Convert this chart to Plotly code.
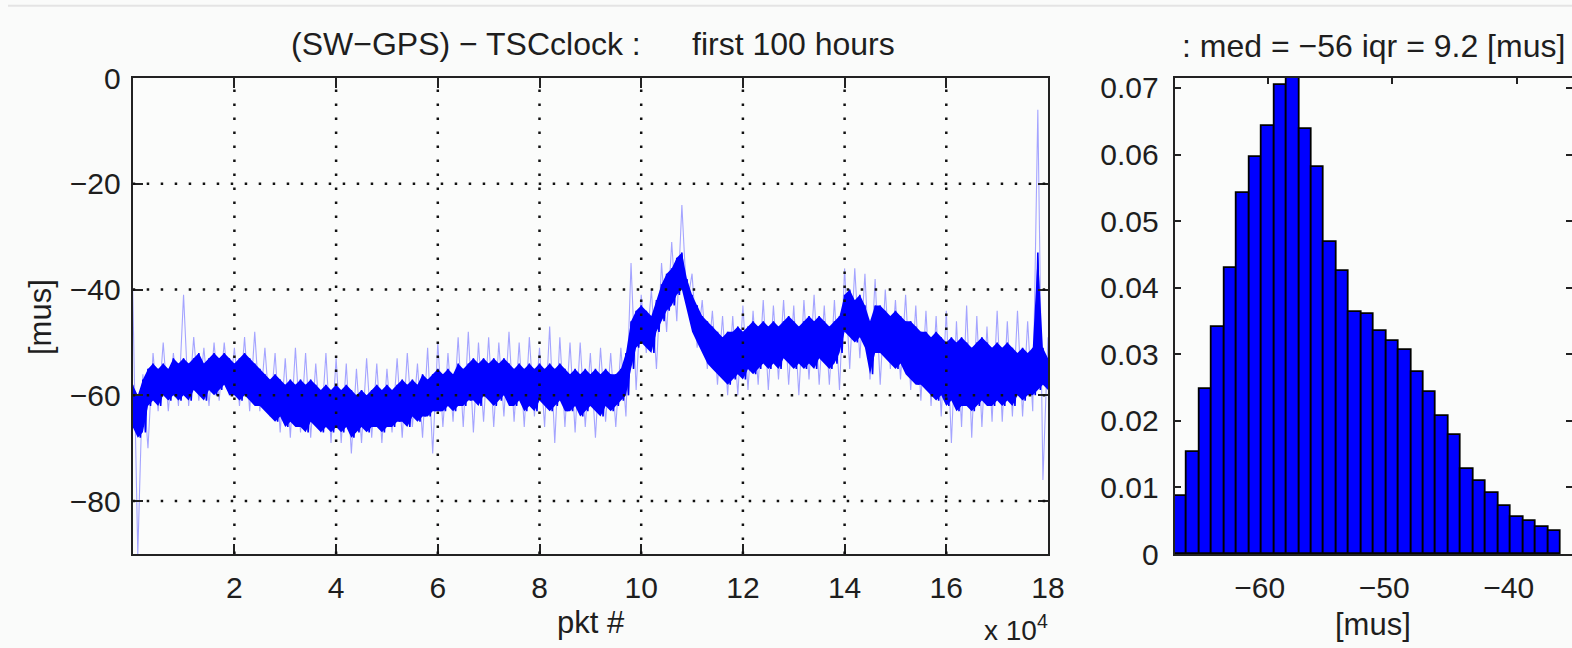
import plotly.graph_objects as go

# ---------------- data ----------------
# left panel: (SW-GPS) - TSCclock offset [mus], dense core band read every 1000 packets
core_pkt_step = 1000
core_hi = [-58, -60, -57, -55, -54, -55, -54, -55, -53, -54,
           -53, -54, -53, -52, -54, -53, -52, -53, -52, -53,
           -54, -53, -52, -53, -54, -55, -56, -57, -56, -57,
           -58, -57, -58, -57, -58, -57, -58, -59, -58, -59,
           -58, -59, -58, -59, -60, -59, -60, -59, -58, -59,
           -58, -59, -58, -57, -58, -57, -58, -56, -57, -56,
           -55, -56, -55, -56, -54, -55, -54, -53, -54, -53,
           -54, -53, -54, -53, -54, -55, -54, -55, -54, -55,
           -54, -55, -54, -55, -54, -55, -56, -55, -56, -55,
           -56, -55, -56, -55, -56, -56, -55, -52, -46, -44,
           -43, -44, -45, -42, -39, -37, -36, -34, -33, -38,
           -41, -43, -45, -46, -47, -48, -49, -48, -48, -47,
           -48, -47, -46, -47, -46, -47, -46, -47, -46, -45,
           -46, -47, -46, -45, -46, -45, -46, -47, -46, -45,
           -41, -40, -42, -41, -43, -46, -43, -43, -44, -45,
           -44, -45, -46, -46, -47, -48, -48, -49, -48, -49,
           -50, -49, -50, -49, -50, -51, -50, -49, -50, -51,
           -50, -51, -50, -51, -52, -51, -52, -51, -33, -51,
           -53]
core_lo = [-66, -68, -67, -62, -61, -62, -60, -61, -60, -61,
           -60, -61, -59, -60, -61, -59, -60, -59, -58, -60,
           -60, -61, -60, -61, -62, -62, -63, -64, -65, -64,
           -66, -65, -66, -66, -67, -65, -66, -67, -66, -67,
           -66, -67, -66, -68, -67, -66, -67, -66, -66, -67,
           -66, -66, -65, -65, -66, -64, -65, -64, -64, -63,
           -63, -63, -62, -63, -62, -62, -61, -61, -62, -60,
           -61, -62, -61, -60, -62, -62, -61, -63, -62, -63,
           -61, -62, -63, -62, -61, -63, -63, -62, -64, -63,
           -62, -63, -64, -62, -63, -62, -61, -60, -55, -51,
           -50, -51, -52, -48, -46, -44, -43, -41, -40, -44,
           -48, -50, -52, -54, -55, -56, -57, -58, -57, -56,
           -57, -55, -56, -55, -54, -55, -54, -55, -53, -54,
           -55, -54, -55, -54, -55, -53, -54, -55, -54, -52,
           -48, -49, -50, -49, -51, -56, -52, -52, -53, -54,
           -55, -54, -56, -57, -58, -58, -59, -60, -61, -60,
           -62, -61, -63, -62, -62, -63, -62, -61, -62, -62,
           -61, -62, -61, -62, -60, -61, -60, -60, -59, -58,
           -59]

# light outliers read every 2000 packets
outer_pkt_step = 2000
outer_hi = [-40, -56, -52, -50, -52, -41, -49, -51, -50, -50,
            -51, -49, -48, -51, -52, -53, -51, -52, -54, -52,
            -53, -54, -55, -53, -54, -55, -53, -52, -54, -51,
            -50, -52, -49, -48, -50, -49, -50, -48, -50, -49,
            -51, -47, -49, -50, -50, -52, -51, -52, -51, -35,
            -41, -40, -35, -31, -24, -37, -42, -44, -45, -45,
            -43, -44, -42, -43, -42, -43, -42, -41, -43, -42,
            -36, -36, -37, -38, -40, -42, -41, -43, -44, -45,
            -44, -46, -43, -45, -47, -44, -46, -44, -46, -6,
            -49]
outer_lo = [-90, -70, -63, -63, -62, -62, -61, -62, -61, -60,
            -62, -63, -63, -64, -67, -68, -67, -68, -67, -69,
            -69, -71, -69, -68, -69, -67, -68, -66, -68, -71,
            -66, -65, -66, -67, -65, -66, -64, -65, -66, -64,
            -66, -69, -66, -67, -66, -68, -65, -66, -64, -59,
            -52, -55, -48, -46, -43, -51, -55, -58, -60, -60,
            -59, -58, -59, -57, -58, -60, -57, -58, -58, -59,
            -55, -53, -57, -58, -55, -57, -59, -61, -62, -64,
            -69, -66, -68, -66, -65, -65, -64, -64, -63, -76,
            -61]

# right panel: histogram of the offset
hist_center_us = list(range(-67, -36))
hist_freq = [0.0087, 0.0153, 0.0248, 0.0341, 0.0429, 0.0542, 0.0596, 0.0643,
             0.0705, 0.0725, 0.0639, 0.0581, 0.0468, 0.0425, 0.0364, 0.0360,
             0.0335, 0.0320, 0.0307, 0.0273, 0.0244, 0.0207, 0.0179, 0.0127,
             0.0109, 0.0091, 0.0072, 0.0055, 0.0049, 0.0040, 0.0034]

left_xticks = [20000, 40000, 60000, 80000, 100000, 120000, 140000, 160000, 180000]
left_xticklabels = ["2", "4", "6", "8", "10", "12", "14", "16", "18"]
left_yticks = [-80, -60, -40, -20, 0]
left_yticklabels = ["\u221280", "\u221260", "\u221240", "\u221220", "0"]
right_xticks = [-60, -50, -40]
right_xticklabels = ["\u221260\u00a0\u00a0", "\u221250\u00a0\u00a0", "\u221240\u00a0\u00a0"]
right_yticks = [0, 0.01, 0.02, 0.03, 0.04, 0.05, 0.06, 0.07]
right_yticklabels = ["0", "0.01", "0.02", "0.03", "0.04", "0.05", "0.06", "0.07"]

# ---------------- layout helpers ----------------
W, H = 1572, 648
def px(x):
    return x / W
def py(y):
    return 1 - y / H

FONT = "Liberation Sans, Arial, Helvetica, sans-serif"
TXT = "#1e1e1e"
BLUE = "#0000ff"

env_x = [k * core_pkt_step for k in range(len(core_hi))]
core_x, core_y = [], []
for k, (hi, lo) in enumerate(zip(core_hi, core_lo)):
    core_x += [k * core_pkt_step, k * core_pkt_step + core_pkt_step // 2]
    core_y += [hi, lo]
outer_x, outer_y = [], []
for k, (hi, lo) in enumerate(zip(outer_hi, outer_lo)):
    outer_x += [k * outer_pkt_step, k * outer_pkt_step + outer_pkt_step // 2]
    outer_y += [hi, lo]

fig = go.Figure()
fig.add_trace(go.Scatter(x=outer_x, y=outer_y, mode="lines",
                         line=dict(color="#a4a4ff", width=1.1),
                         xaxis="x", yaxis="y", showlegend=False, hoverinfo="skip"))
# solid core band
fig.add_trace(go.Scatter(x=env_x, y=core_hi, mode="lines", line=dict(color=BLUE, width=0),
                         xaxis="x", yaxis="y", showlegend=False, hoverinfo="skip"))
fig.add_trace(go.Scatter(x=env_x, y=core_lo, mode="lines", line=dict(color=BLUE, width=0),
                         fill="tonexty", fillcolor=BLUE,
                         xaxis="x", yaxis="y", showlegend=False, hoverinfo="skip"))
fig.add_trace(go.Scatter(x=core_x, y=core_y, mode="lines",
                         line=dict(color=BLUE, width=1.6),
                         xaxis="x", yaxis="y", showlegend=False))
fig.add_trace(go.Bar(x=hist_center_us, y=hist_freq, width=1,
                     marker=dict(color=BLUE, line=dict(color="#000000", width=1.8)),
                     xaxis="x2", yaxis="y2", showlegend=False))

ydom = [py(554), py(78)]
axis_common = dict(showgrid=False, zeroline=False, showline=True, linecolor="#222222",
                   linewidth=2, mirror="ticks", ticks="inside", tickcolor="#222222",
                   tickwidth=1.5, automargin=False,
                   tickfont=dict(family=FONT, size=30, color=TXT))

fig.update_layout(
    width=W, height=H,
    margin=dict(l=0, r=0, t=0, b=0, pad=0, autoexpand=False),
    paper_bgcolor="#fafbfa", plot_bgcolor="#fbfcfb",
    bargap=0,
    xaxis=dict(domain=[px(132.7), px(1048)], range=[0, 180000],
               tickmode="array", tickvals=left_xticks, ticktext=left_xticklabels,
               ticklen=10, ticklabelstandoff=6, layer="above traces", **axis_common),
    yaxis=dict(domain=ydom, range=[-90, 0],
               tickmode="array", tickvals=left_yticks, ticktext=left_yticklabels,
               ticklen=10, ticklabelstandoff=4, layer="above traces", **axis_common),
    xaxis2=dict(domain=[px(1174.6), 1.0], range=[-67.5, -35.58], anchor="y2",
                tickmode="array", tickvals=right_xticks, ticktext=right_xticklabels,
                ticklen=6, ticklabelstandoff=6, layer="below traces", **axis_common),
    yaxis2=dict(domain=ydom, range=[0, 0.0715], anchor="x2",
                tickmode="array", tickvals=right_yticks, ticktext=right_yticklabels,
                ticklen=6, ticklabelstandoff=8, layer="above traces", **axis_common),
)

# dotted grid drawn on top of the data (as in the original)
shapes = []
for v in left_yticks[:-1]:
    shapes.append(dict(type="line", xref="x", yref="y", x0=0, x1=180000, y0=v, y1=v,
                       line=dict(color="#111111", width=2.5, dash="2.5px,11.5px"), layer="above"))
for v in left_xticks[:-1]:
    shapes.append(dict(type="line", xref="x", yref="y", x0=v, x1=v, y0=-90, y1=0,
                       line=dict(color="#111111", width=2.5, dash="2.5px,11.5px"), layer="above"))
shapes.append(dict(type="line", xref="paper", yref="paper", x0=px(8), x1=1, y0=py(5.7), y1=py(5.7),
                   line=dict(color="#e4e4e4", width=2), layer="above"))
fig.update_layout(shapes=shapes)

def ann(text, x, y, xanchor="center", size=32, angle=0):
    return dict(text=text, x=px(x), y=py(y), xref="paper", yref="paper", showarrow=False,
                xanchor=xanchor, yanchor="middle", textangle=angle,
                font=dict(family=FONT, size=size, color=TXT))

fig.update_layout(annotations=[
    ann("(SW\u2212GPS) \u2212 TSCclock :", 643, 44, xanchor="right"),
    ann("first 100 hours", 690, 44, xanchor="left"),
    ann(": med = \u221256 iqr = 9.2 [mus]", 1373.5, 46),
    ann("pkt #", 591, 622, size=31),
    ann("[mus]", 1372.5, 624, size=31),
    ann("[mus]", 40, 317, size=31, angle=-90),
    ann("x 10<sup>4</sup>", 1050, 628, xanchor="right", size=28),
])

fig.write_html("out.html")
